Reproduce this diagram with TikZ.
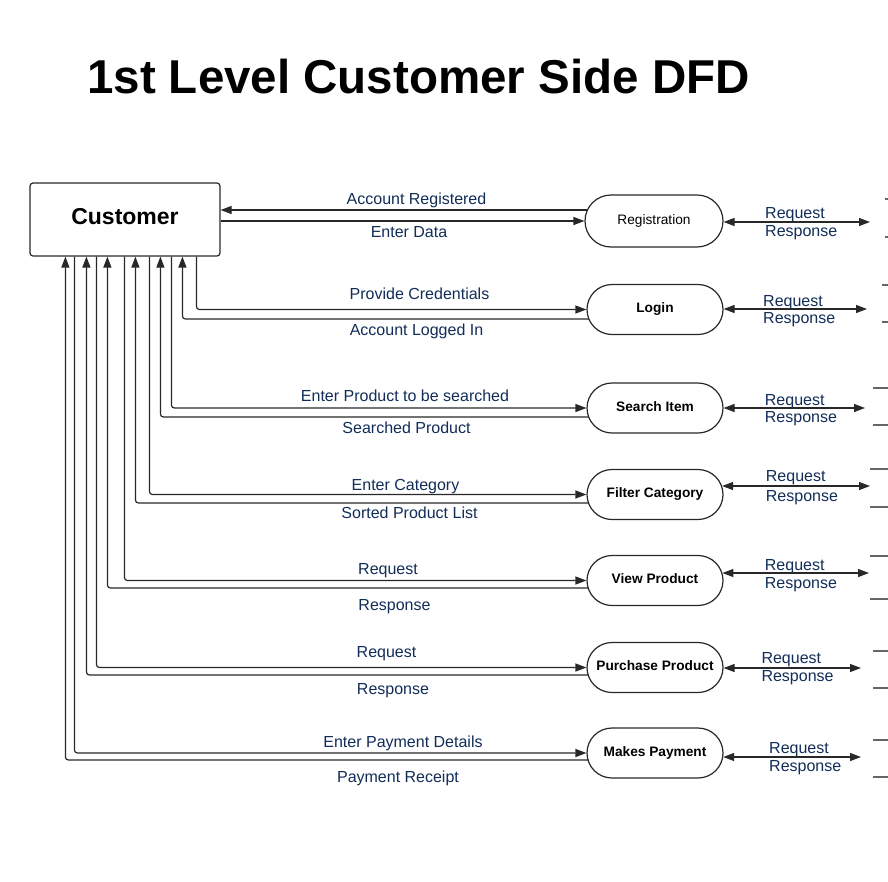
\documentclass[tikz,border=0pt]{standalone}
\usepackage{fontspec}
\setmainfont{Liberation Sans}
\usetikzlibrary{arrows.meta,shapes.misc}
\pgfdeclarelayer{back}
\pgfdeclarelayer{bg}
\pgfsetlayers{back,bg,main}
\definecolor{lbl}{RGB}{18,45,88}
\definecolor{ln}{RGB}{40,40,40}
\begin{document}
\begin{tikzpicture}[x=1pt,y=-1pt,
  flow/.style={draw=ln,line width=1.2pt,rounded corners=3pt},
  tip/.style={-{Triangle[length=11pt,width=8pt]}},
  both/.style={{Triangle[length=11pt,width=8pt]}-{Triangle[length=11pt,width=8pt]}},
  proc/.style={draw=ln,line width=1.2pt,fill=white,rounded rectangle,minimum width=136pt,minimum height=50pt,inner sep=0pt,font=\fontsize{13.7}{14}\selectfont\bfseries,text height=10pt,text depth=3.5pt},
  flbl/.style={text=lbl,font=\fontsize{16}{18}\selectfont,anchor=base,inner sep=0pt},
  rlbl/.style={text=lbl,font=\fontsize{16}{18}\selectfont,anchor=base west,inner sep=0pt},
  stub/.style={draw=black!60,line width=1.2pt}]
\begin{pgfonlayer}{back}
\fill[white] (0,0) rectangle (888,881);
\end{pgfonlayer}
\useasboundingbox (0,0) rectangle (888,881);

% title
\node[font=\fontsize{47.5}{50}\selectfont\bfseries,anchor=base west,inner sep=0pt] (title) at (87,93.3) {1st Level Customer Side DFD};

% entity
\node[draw=ln,line width=1.2pt,rounded corners=3pt,minimum width=190pt,minimum height=73pt,inner sep=0pt,font=\fontsize{23}{24}\selectfont\bfseries,text height=16.7pt,text depth=7.7pt] (cust) at (125,219.5) {Customer};

% processes
\node[proc,minimum width=138pt,minimum height=52pt,font=\fontsize{13.7}{14}\selectfont] (reg) at (654,221) {Registration};
\node[proc] (login) at (655,309.5) {Login};
\node[proc] (search) at (655,408) {Search Item};
\node[proc] (filter) at (655,494.5) {Filter Category};
\node[proc] (view) at (655,580.5) {View Product};
\node[proc] (purch) at (655,667.5) {Purchase Product};
\node[proc] (pay) at (655,753) {Makes Payment};

% right free ends
\coordinate (regE) at (870,222);
\coordinate (loginE) at (867,309);
\coordinate (searchE) at (865,408);
\coordinate (filterE) at (870,486);
\coordinate (viewE) at (869,573);
\coordinate (purchE) at (861,668);
\coordinate (payE) at (861,757);

\begin{pgfonlayer}{bg}
% registration
\draw[flow,tip] ([yshift=11pt]reg.center) -- ([yshift=11pt]reg.center -| cust.east);
\draw[flow,tip] (reg.west -| cust.east) -- (reg.west);
% login
\draw[flow,tip] ([xshift=167pt]cust.south west) |- (login.west);
\draw[flow,tip] ([yshift=-9.5pt]login.center) -| ([xshift=153pt]cust.south west);
% search
\draw[flow,tip] ([xshift=142pt]cust.south west) |- (search.west);
\draw[flow,tip] ([yshift=-9pt]search.center) -| ([xshift=131pt]cust.south west);
% filter
\draw[flow,tip] ([xshift=120pt]cust.south west) |- (filter.west);
\draw[flow,tip] ([yshift=-8.5pt]filter.center) -| ([xshift=106pt]cust.south west);
% view
\draw[flow,tip] ([xshift=95pt]cust.south west) |- (view.west);
\draw[flow,tip] ([yshift=-7.5pt]view.center) -| ([xshift=78pt]cust.south west);
% purchase
\draw[flow,tip] ([xshift=67pt]cust.south west) |- (purch.west);
\draw[flow,tip] ([yshift=-7.5pt]purch.center) -| ([xshift=57pt]cust.south west);
% payment
\draw[flow,tip] ([xshift=45pt]cust.south west) |- (pay.west);
\draw[flow,tip] ([yshift=-7pt]pay.center) -| ([xshift=36pt]cust.south west);
\end{pgfonlayer}

% right two-way flows
\draw[flow,both] (reg.east |- regE) -- (regE);
\draw[flow,both] (login.east |- loginE) -- (loginE);
\draw[flow,both] (search.east |- searchE) -- (searchE);
\draw[flow,both] ([xshift=-1.5pt]filter.east |- filterE) -- (filterE);
\draw[flow,both] ([xshift=-1.2pt]view.east |- viewE) -- (viewE);
\draw[flow,both] (purch.east |- purchE) -- (purchE);
\draw[flow,both] ([xshift=-0.4pt]pay.east |- payE) -- (payE);

% partial data stores at the edge
\draw[stub] (885,199) -- (889,199); \draw[stub] (885,237) -- (889,237);
\draw[stub] (882,285) -- (889,285); \draw[stub] (882,322) -- (889,322);
\draw[stub] (873,388) -- (889,388); \draw[stub] (873,425) -- (889,425);
\draw[stub] (870,469) -- (889,469); \draw[stub] (870,507) -- (889,507);
\draw[stub] (870,556) -- (889,556); \draw[stub] (870,599) -- (889,599);
\draw[stub] (873,651) -- (889,651); \draw[stub] (873,688) -- (889,688);
\draw[stub] (873,740) -- (889,740); \draw[stub] (873,777) -- (889,777);

% left flow labels
\node[flbl] (l1) at (416.5,204) {Account Registered};
\node[flbl] (l2) at (409,237.3) {Enter Data};
\node[flbl] (l3) at (419.5,299) {Provide Credentials};
\node[flbl] (l4) at (416.5,335.7) {Account Logged In};
\node[flbl] (l5) at (405,401.7) {Enter Product to be searched};
\node[flbl] (l6) at (406.5,433.3) {Searched Product};
\node[flbl] (l7) at (405.5,490) {Enter Category};
\node[flbl] (l8) at (409.5,518.3) {Sorted Product List};
\node[flbl] (l9) at (388,574) {Request};
\node[flbl] (l10) at (394.5,610) {Response};
\node[flbl] (l11) at (386.5,657.3) {Request};
\node[flbl] (l12) at (393,694.3) {Response};
\node[flbl] (l13) at (403,747.3) {Enter Payment Details};
\node[flbl] (l14) at (398,782.7) {Payment Receipt};

% right flow labels
\node[rlbl] (r1a) at (765,218.3) {Request};
\node[rlbl] (r1b) at (765,236.7) {Response};
\node[rlbl] (r2a) at (763,306) {Request};
\node[rlbl] (r2b) at (763,323.3) {Response};
\node[rlbl] (r3a) at (764.7,405) {Request};
\node[rlbl] (r3b) at (764.7,422.7) {Response};
\node[rlbl] (r4a) at (765.7,481.7) {Request};
\node[rlbl] (r4b) at (765.7,501) {Response};
\node[rlbl] (r5a) at (764.7,570) {Request};
\node[rlbl] (r5b) at (764.7,588.3) {Response};
\node[rlbl] (r6a) at (761.3,663.3) {Request};
\node[rlbl] (r6b) at (761.3,681.7) {Response};
\node[rlbl] (r7a) at (769,753.3) {Request};
\node[rlbl] (r7b) at (769,771.7) {Response};
\end{tikzpicture}
\end{document}
